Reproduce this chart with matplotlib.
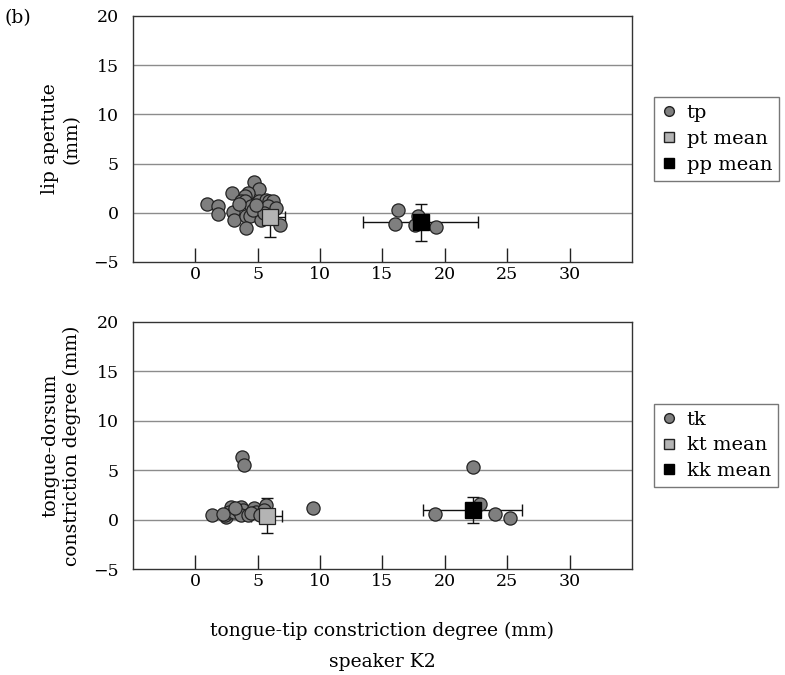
import matplotlib
matplotlib.use("Agg")
import matplotlib.pyplot as plt
from matplotlib.lines import Line2D

plt.rcParams['font.family'] = ['DejaVu Serif', 'Liberation Serif']

# ---- data: top panel (lip aperture) ----
tp_x = [0.91, 1.79, 1.79, 2.92, 3.0, 3.13, 4.74, 5.09, 4.2, 3.94, 3.67, 3.94,
        4.47, 4.07, 4.34, 4.02, 5.09, 5.1, 5.68, 5.94, 6.21, 5.8, 6.48, 5.28,
        6.75, 4.6, 5.54, 3.5, 4.9,
        16.25, 15.98, 17.59, 17.86, 19.25]
tp_y = [0.88, 0.64, -0.13, 2.0, 0.07, -0.71, 3.12, 2.41, 2.0, 1.66, 1.15, 1.15,
        0.64, -0.37, -0.37, -1.56, 1.15, 0.3, 1.32, 1.15, 1.15, 0.64, 0.47, -0.71,
        -1.29, 0.3, -0.03, 0.9, 0.8,
        0.24, -1.12, -1.22, -0.37, -1.46]
pt_mean = (6.02, -0.47)
pt_err = (1.2, 1.95)
pp_mean = (18.05, -0.95)
pp_err = (4.6, 1.88)

# ---- data: bottom panel (tongue-dorsum) ----
tk_x = [3.75, 3.88, 1.34, 2.46, 2.35, 2.87, 2.73, 3.13, 3.4, 3.67, 3.8, 3.67,
        4.2, 4.74, 4.87, 5.68, 5.54, 9.42, 2.2, 3.2, 4.5, 5.2,
        19.2, 22.22, 22.8, 24.0, 25.2]
tk_y = [6.3, 5.53, 0.43, 0.3, 0.46, 1.31, 0.8, 0.8, 0.97, 1.31, 0.97, 0.47,
        0.47, 1.14, 0.8, 1.48, 0.97, 1.14, 0.6, 1.2, 0.7, 0.5,
        0.57, 5.35, 1.58, 0.57, 0.13]
kt_mean = (5.73, 0.4)
kt_err = (1.25, 1.8)
kk_mean = (22.22, 0.97)
kk_err = (4.0, 1.32)

x_ticks = [0, 5, 10, 15, 20, 25, 30]
y_ticks = [-5, 0, 5, 10, 15, 20]

fig = plt.figure(figsize=(7.85, 6.75), dpi=100)
ax1 = fig.add_axes([0.1694, 0.6119, 0.6357, 0.3644])
ax2 = fig.add_axes([0.1694, 0.1570, 0.6357, 0.3660])

FS = 12.5
LFS = 13.5
pt_col = '#7f7f7f'
mean_light = '#b4b4b4'


def draw(ax, px, py, m1, e1, m2, e2, labels, ylabel):
    ax.set_xlim(-5, 35)
    ax.set_ylim(-5, 20)
    for yv in y_ticks[1:-1]:
        ax.axhline(yv, color='#8c8c8c', lw=1.0, zorder=0)
    ax.set_xticks(x_ticks)
    ax.set_yticks(y_ticks)
    ax.tick_params(axis='x', direction='in', length=10, width=1, color='#222222',
                   labelsize=FS, pad=3)
    ax.tick_params(axis='y', length=0, labelsize=FS, pad=10)
    for s in ax.spines.values():
        s.set_color('#333333')
        s.set_linewidth(1.0)
    ax.errorbar([m1[0]], [m1[1]], xerr=[e1[0]], yerr=[e1[1]], fmt='none',
                ecolor='#111111', elinewidth=1.0, capsize=4, capthick=1.0, zorder=2)
    ax.errorbar([m2[0]], [m2[1]], xerr=[e2[0]], yerr=[e2[1]], fmt='none',
                ecolor='#111111', elinewidth=1.0, capsize=4, capthick=1.0, zorder=2)
    ax.scatter(px, py, s=90, c=pt_col, edgecolors='#222222', linewidths=0.9, zorder=3)
    ax.plot([m1[0]], [m1[1]], marker='s', ms=11, color=mean_light,
            markeredgecolor='#222222', markeredgewidth=0.9, zorder=4, ls='none')
    ax.plot([m2[0]], [m2[1]], marker='s', ms=11, color='black',
            markeredgecolor='black', zorder=4, ls='none')
    handles = [
        Line2D([], [], marker='o', ls='none', ms=7, color=pt_col, markeredgecolor='#222222'),
        Line2D([], [], marker='s', ls='none', ms=7, color=mean_light, markeredgecolor='#222222'),
        Line2D([], [], marker='s', ls='none', ms=7, color='black', markeredgecolor='black'),
    ]
    leg = ax.legend(handles, labels, loc='center left', bbox_to_anchor=(1.045, 0.5),
                    fontsize=14, frameon=True, fancybox=False, handlelength=0.8,
                    handletextpad=0.5, borderpad=0.35, labelspacing=0.4,
                    borderaxespad=0)
    leg.get_frame().set_edgecolor('#555555')
    leg.get_frame().set_linewidth(1.0)
    ax.set_ylabel(ylabel, fontsize=LFS, labelpad=9, linespacing=1.25)


draw(ax1, tp_x, tp_y, pt_mean, pt_err, pp_mean, pp_err,
     ['tp', 'pt mean', 'pp mean'], 'lip apertute\n(mm)')
draw(ax2, tk_x, tk_y, kt_mean, kt_err, kk_mean, kk_err,
     ['tk', 'kt mean', 'kk mean'], 'tongue-dorsum\nconstriction degree (mm)')

ax2.set_xlabel('tongue-tip constriction degree (mm)', fontsize=LFS, labelpad=23)
fig.text(0.487, 0.019, 'speaker K2', fontsize=LFS, ha='center', va='center')
fig.text(0.006, 0.987, '(b)', fontsize=LFS, ha='left', va='top')

fig.savefig('out.png', dpi=100)
